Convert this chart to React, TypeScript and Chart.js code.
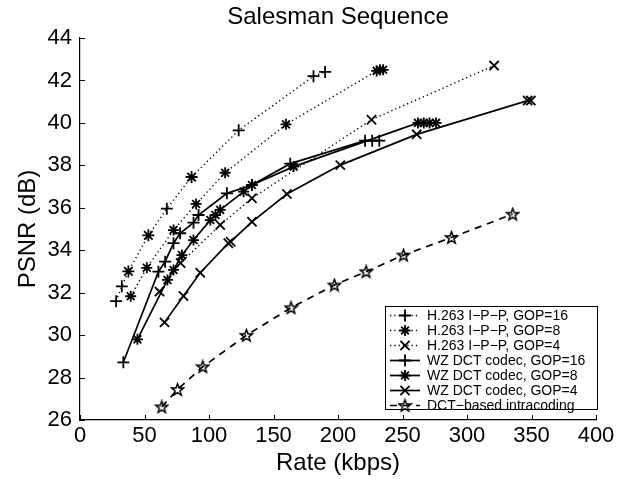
import { useEffect, useRef } from 'react';
import { Chart, registerables } from 'chart.js';
Chart.register(...registerables);

// ---- data (Rate in kbps, PSNR in dB) ----
const xTicks = [0, 50, 100, 150, 200, 250, 300, 350, 400];
const yTicks = [26, 28, 30, 32, 34, 36, 38, 40, 42, 44];

const h263Gop16Rate = [28, 32.4, 37.5, 53, 67.3, 86.5, 123, 181, 190];
const h263Gop16Psnr = [31.6, 32.3, 33.0, 34.7, 35.96, 37.45, 39.65, 42.2, 42.4];
const h263Gop8Rate = [39.3, 51.8, 72.5, 90, 112.5, 159.7, 230, 232.5, 235];
const h263Gop8Psnr = [31.83, 33.17, 34.95, 36.18, 37.65, 39.93, 42.45, 42.5, 42.5];
const h263Gop4Rate = [61.6, 78, 108.7, 133.3, 226, 321];
const h263Gop4Psnr = [32.05, 33.4, 35.19, 36.45, 40.15, 42.7];
const wzGop16Rate = [33.6, 60.8, 66, 72.5, 77.6, 88, 91.9, 113.9, 133.3, 163, 221, 226.5, 232];
const wzGop16Psnr = [28.72, 32.99, 33.46, 34.33, 34.8, 35.3, 35.66, 36.68, 37.07, 38.08, 39.16, 39.16, 39.16];
const wzGop8Rate = [44.5, 67.8, 72.5, 79, 88, 101, 105, 108.7, 126.8, 133.3, 165.6, 262, 266.5, 271, 276];
const wzGop8Psnr = [29.8, 32.6, 33.07, 33.77, 34.48, 35.42, 35.66, 35.9, 36.76, 37.07, 37.94, 40.0, 40.0, 40.0, 40.0];
const wzGop4Rate = [65.5, 80.2, 93.2, 115, 116.8, 133.3, 160.4, 201.8, 261, 347, 349.5];
const wzGop4Psnr = [30.6, 31.84, 32.94, 34.33, 34.4, 35.34, 36.65, 38.01, 39.46, 41.05, 41.05];
const dctRate = [63.4, 75.6, 95.2, 129, 163.6, 197.2, 221.8, 250.8, 288, 335.4];
const dctPsnr = [26.62, 27.44, 28.51, 29.99, 31.29, 32.36, 32.99, 33.77, 34.6, 35.7];

const seriesLabels = [
  'H.263 I\u2212P\u2212P, GOP=16',
  'H.263 I\u2212P\u2212P, GOP=8',
  'H.263 I\u2212P\u2212P, GOP=4',
  'WZ DCT codec, GOP=16',
  'WZ DCT codec, GOP=8',
  'WZ DCT codec, GOP=4',
  'DCT\u2212based intracoding',
];

// marker styles of the top dotted curve as they appear in the picture
const h263Gop16Markers = ['cross', 'cross', 'star', 'star', 'cross', 'star', 'cross', 'cross', 'cross'];

const FONT = '"Liberation Sans", Arial, Helvetica, sans-serif';

function pts(xs: number[], ys: number[]) {
  return xs.map((x, i) => ({ x, y: ys[i] }));
}

function makePentagram(): HTMLCanvasElement {
  const c = document.createElement('canvas');
  c.width = 15;
  c.height = 15;
  const g = c.getContext('2d')!;
  const cx = 7.5, cy = 8, R = 6.3, r = 2.6;
  g.beginPath();
  for (let i = 0; i < 10; i++) {
    const rad = i % 2 === 0 ? R : r;
    const a = -Math.PI / 2 + (i * Math.PI) / 5;
    const px = cx + rad * Math.cos(a);
    const py = cy + rad * Math.sin(a);
    if (i === 0) g.moveTo(px, py); else g.lineTo(px, py);
  }
  g.closePath();
  g.strokeStyle = '#000';
  g.lineJoin = 'miter';
  g.lineWidth = 1.5;
  g.stroke();
  return c;
}

function drawMarker(ctx: CanvasRenderingContext2D, style: any, x: number, y: number, r: number) {
  if (style instanceof HTMLCanvasElement) {
    ctx.drawImage(style, x - style.width / 2, y - style.height / 2);
    return;
  }
  ctx.beginPath();
  const d = r * Math.SQRT1_2;
  if (style === 'cross' || style === 'star') {
    ctx.moveTo(x - r, y); ctx.lineTo(x + r, y);
    ctx.moveTo(x, y - r); ctx.lineTo(x, y + r);
  }
  if (style === 'crossRot' || style === 'star') {
    ctx.moveTo(x - d, y - d); ctx.lineTo(x + d, y + d);
    ctx.moveTo(x - d, y + d); ctx.lineTo(x + d, y - d);
  }
  ctx.stroke();
}

export default function App() {
  const ref = useRef<HTMLCanvasElement | null>(null);

  useEffect(() => {
    const canvas = ref.current;
    if (!canvas) return;
    const star5 = makePentagram();

    const dotted = [1.3, 3];
    const dashed = [7, 6];

    const datasets: any[] = [
      {
        label: seriesLabels[0], data: pts(h263Gop16Rate, h263Gop16Psnr),
        borderDash: dotted, borderWidth: 1.4, pointStyle: h263Gop16Markers, pointRadius: 6,
        legendStyle: 'cross', legendRadius: 6,
      },
      {
        label: seriesLabels[1], data: pts(h263Gop8Rate, h263Gop8Psnr),
        borderDash: dotted, borderWidth: 1.4, pointStyle: 'star', pointRadius: 5.5,
        legendStyle: 'star', legendRadius: 5.5,
      },
      {
        label: seriesLabels[2], data: pts(h263Gop4Rate, h263Gop4Psnr),
        borderDash: dotted, borderWidth: 1.4, pointStyle: 'crossRot', pointRadius: 6.5,
        legendStyle: 'crossRot', legendRadius: 6.5,
      },
      {
        label: seriesLabels[3], data: pts(wzGop16Rate, wzGop16Psnr),
        borderDash: [], borderWidth: 1.7, pointStyle: 'cross', pointRadius: 6,
        legendStyle: 'cross', legendRadius: 6,
      },
      {
        label: seriesLabels[4], data: pts(wzGop8Rate, wzGop8Psnr),
        borderDash: [], borderWidth: 1.7, pointStyle: 'star', pointRadius: 5.5,
        legendStyle: 'star', legendRadius: 5.5,
      },
      {
        label: seriesLabels[5], data: pts(wzGop4Rate, wzGop4Psnr),
        borderDash: [], borderWidth: 1.7, pointStyle: 'crossRot', pointRadius: 6.5,
        legendStyle: 'crossRot', legendRadius: 6.5,
      },
      {
        label: seriesLabels[6], data: pts(dctRate, dctPsnr),
        borderDash: dashed, borderWidth: 1.7, pointStyle: star5, pointRadius: 6,
        legendStyle: star5, legendRadius: 6,
      },
    ].map((d) => ({
      ...d,
      showLine: true,
      tension: 0,
      borderColor: '#000',
      backgroundColor: 'rgba(0,0,0,0)',
      pointBorderColor: '#000',
      pointBackgroundColor: 'rgba(0,0,0,0)',
      pointBorderWidth: 1.8,
      pointHoverRadius: d.pointRadius,
    }));

    const decor = {
      id: 'decor',
      afterDraw(chart: any) {
        const { ctx, chartArea, scales } = chart;
        const xs = scales.x, ys = scales.y;
        ctx.save();
        // inward tick marks
        ctx.strokeStyle = '#000';
        ctx.lineWidth = 1;
        ctx.beginPath();
        xTicks.forEach((v) => {
          const px = Math.round(xs.getPixelForValue(v)) + 0.5;
          ctx.moveTo(px, chartArea.bottom);
          ctx.lineTo(px, chartArea.bottom - 5);
        });
        yTicks.forEach((v) => {
          const py = Math.round(ys.getPixelForValue(v)) + 0.5;
          ctx.moveTo(chartArea.left, py);
          ctx.lineTo(chartArea.left + 5, py);
        });
        ctx.stroke();

        // titles
        ctx.fillStyle = '#000';
        ctx.textAlign = 'center';
        ctx.textBaseline = 'middle';
        const cx = (chartArea.left + chartArea.right) / 2;
        ctx.font = `24px ${FONT}`;
        ctx.fillText('Salesman Sequence', cx, 17);
        ctx.fillText('Rate (kbps)', cx, 463);
        ctx.save();
        ctx.translate(28, (chartArea.top + chartArea.bottom) / 2);
        ctx.rotate(-Math.PI / 2);
        ctx.fillText('PSNR (dB)', 0, 0);
        ctx.restore();

        // legend
        const bx = 385, by = 306, bw = 212, bh = 103;
        ctx.fillStyle = '#fff';
        ctx.fillRect(bx, by, bw, bh);
        ctx.strokeStyle = '#000';
        ctx.lineWidth = 1;
        ctx.strokeRect(bx + 0.5, by + 0.5, bw, bh);
        ctx.font = `14px ${FONT}`;
        ctx.textAlign = 'left';
        chart.data.datasets.forEach((ds: any, i: number) => {
          const y = by + 9.5 + i * 15;
          ctx.save();
          ctx.strokeStyle = '#000';
          ctx.lineWidth = ds.borderWidth;
          ctx.setLineDash(ds.borderDash || []);
          ctx.beginPath();
          ctx.moveTo(390, y);
          ctx.lineTo(420, y);
          ctx.stroke();
          ctx.setLineDash([]);
          ctx.lineWidth = 1.8;
          drawMarker(ctx, ds.legendStyle, 405, y, ds.legendRadius);
          ctx.restore();
          ctx.fillStyle = '#000';
          ctx.fillText(ds.label, 427, y + 1);
        });
        ctx.restore();
      },
    };

    const chart = new Chart(canvas, {
      type: 'scatter',
      data: { datasets },
      options: {
        responsive: false,
        animation: false,
        devicePixelRatio: 1,
        layout: { padding: { left: 0, top: 38, right: 32, bottom: 0 } },
        plugins: {
          legend: { display: false },
          title: { display: false },
          tooltip: { enabled: false },
        },
        scales: {
          x: {
            type: 'linear',
            min: 0,
            max: 400,
            afterBuildTicks: (s: any) => { s.ticks = xTicks.map((v) => ({ value: v })); },
            afterFit: (s: any) => { s.height = 59; },
            ticks: { color: '#000', font: { size: 22, family: FONT }, padding: 3, maxRotation: 0 },
            grid: { display: false, drawTicks: false },
            border: { display: true, color: '#000', width: 1.2 },
          },
          y: {
            type: 'linear',
            min: 26,
            max: 44,
            afterBuildTicks: (s: any) => { s.ticks = yTicks.map((v) => ({ value: v })); },
            afterFit: (s: any) => { s.width = 80; },
            ticks: { color: '#000', font: { size: 22, family: FONT }, padding: 8 },
            grid: { display: false, drawTicks: false },
            border: { display: true, color: '#000', width: 1.2 },
          },
        },
      } as any,
      plugins: [decor],
    });
    return () => chart.destroy();
  }, []);

  return (
    <div style={{ position: 'fixed', left: 0, top: 0, width: 628, height: 479, background: '#fff' }}>
      <canvas ref={ref} width={628} height={479} style={{ display: 'block', width: 628, height: 479 }} />
    </div>
  );
}
